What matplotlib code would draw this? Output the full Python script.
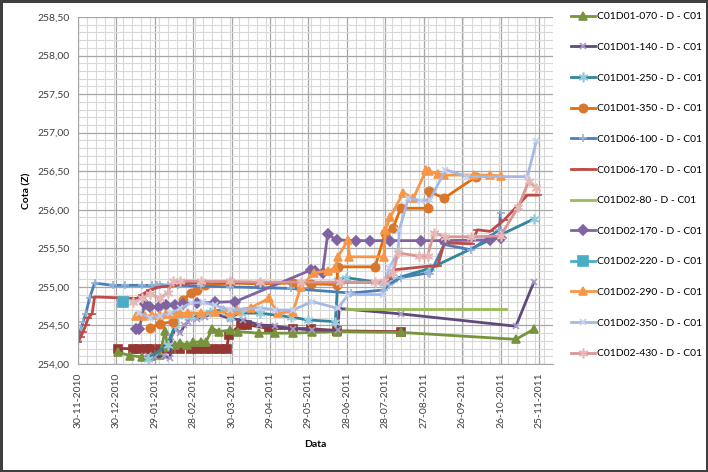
import matplotlib
matplotlib.use("Agg")
import matplotlib.pyplot as plt
import matplotlib.dates as mdates
import matplotlib.ticker as mticker
import pandas as pd

# ---- data (date, cota) ----
d070 = ["2010-12-31", "2011-01-10", "2011-01-19", "2011-01-26", "2011-02-02", "2011-02-06", "2011-02-08",
        "2011-02-14", "2011-02-18", "2011-02-23", "2011-02-28", "2011-03-06", "2011-03-10", "2011-03-15",
        "2011-03-20", "2011-03-29", "2011-04-04", "2011-04-20", "2011-05-03", "2011-05-17", "2011-06-01",
        "2011-06-20", "2011-08-09", "2011-11-07", "2011-11-21"]
z070 = [254.15, 254.11, 254.09, 254.10, 254.12, 254.43, 254.22, 254.24, 254.27, 254.25, 254.28, 254.29, 254.29,
        254.46, 254.42, 254.44, 254.42, 254.40, 254.40, 254.40, 254.41, 254.42, 254.41, 254.32, 254.45]

d140 = ["2011-01-24", "2011-01-29", "2011-02-05", "2011-02-10", "2011-02-11", "2011-02-14", "2011-02-18",
        "2011-02-21", "2011-02-24", "2011-02-26", "2011-03-03", "2011-03-09", "2011-03-15", "2011-03-29",
        "2011-04-08", "2011-04-20", "2011-05-03", "2011-05-17", "2011-06-01", "2011-06-21", "2011-06-22",
        "2011-08-09", "2011-11-07", "2011-11-21"]
z140 = [254.10, 254.09, 254.10, 254.08, 254.35, 254.46, 254.40, 254.50, 254.55, 254.61, 254.59, 254.61, 254.66,
        254.59, 254.57, 254.51, 254.49, 254.46, 254.44, 254.44, 254.72, 254.65, 254.49, 255.06]

d250 = ["2011-01-24", "2011-02-08", "2011-02-14", "2011-02-16", "2011-02-26", "2011-03-06", "2011-03-13",
        "2011-03-23", "2011-03-29", "2011-04-06", "2011-04-21", "2011-05-15", "2011-05-29", "2011-06-19",
        "2011-06-21", "2011-06-27", "2011-07-27", "2011-08-03", "2011-09-01", "2011-11-21"]
z250 = [254.07, 254.25, 254.51, 254.62, 254.62, 254.63, 254.68, 254.70, 254.61, 254.66, 254.66, 254.61, 254.57,
        254.55, 255.09, 255.12, 255.05, 255.10, 255.24, 255.88]

d350 = ["2011-01-25", "2011-02-02", "2011-02-12", "2011-02-20", "2011-02-26", "2011-03-03", "2011-03-09",
        "2011-03-29", "2011-04-20", "2011-05-17", "2011-05-31", "2011-06-20", "2011-06-21", "2011-07-20",
        "2011-07-28", "2011-08-03", "2011-08-09", "2011-08-30", "2011-08-31", "2011-09-12", "2011-10-07"]
z350 = [254.47, 254.52, 254.55, 254.83, 254.92, 254.96, 255.02, 255.05, 255.04, 255.05, 255.04, 255.03, 255.26,
        255.26, 255.70, 255.76, 256.02, 256.02, 256.24, 256.15, 256.43]

d6100 = ["2010-11-30", "2010-12-02", "2010-12-04", "2010-12-06", "2010-12-09", "2010-12-13", "2010-12-27",
         "2011-01-06", "2011-01-19", "2011-01-27", "2011-01-31", "2011-02-02", "2011-02-08", "2011-02-16",
         "2011-03-06", "2011-03-29", "2011-05-15", "2011-07-01", "2011-07-27", "2011-07-31", "2011-08-09",
         "2011-08-30", "2011-09-01", "2011-09-12", "2011-10-03", "2011-10-25", "2011-10-26"]
z6100 = [254.30, 254.45, 254.55, 254.65, 254.85, 255.05, 255.02, 255.02, 255.02, 255.02, 255.02, 255.03, 255.02,
         255.02, 255.01, 255.00, 254.98, 254.92, 254.96, 255.03, 255.12, 255.18, 255.17, 255.55, 255.48, 255.74,
         255.96]

d6170 = ["2010-11-30", "2010-12-02", "2010-12-04", "2010-12-06", "2010-12-08", "2010-12-11", "2010-12-13",
         "2011-01-15", "2011-01-19", "2011-01-25", "2011-02-02", "2011-02-10", "2011-02-26", "2011-03-09",
         "2011-07-27", "2011-07-31", "2011-08-03", "2011-09-01", "2011-09-07", "2011-09-12", "2011-10-03",
         "2011-10-08", "2011-10-18", "2011-10-29", "2011-11-16", "2011-11-24"]
z6170 = [254.28, 254.35, 254.42, 254.50, 254.60, 254.65, 254.87, 254.85, 254.90, 254.96, 255.00, 255.01, 255.05,
         255.06, 255.06, 255.10, 255.22, 255.27, 255.27, 255.57, 255.56, 255.74, 255.72, 255.87, 256.19, 256.19]

d280 = ["2011-06-27", "2011-10-30"]
z280 = [254.71, 254.71]

d2170 = ["2011-01-14", "2011-01-17", "2011-01-21", "2011-01-25", "2011-02-01", "2011-02-07", "2011-02-14",
         "2011-02-20", "2011-03-03", "2011-03-17", "2011-04-02", "2011-05-31", "2011-06-03", "2011-06-09",
         "2011-06-13", "2011-06-20", "2011-07-05", "2011-07-16", "2011-08-01", "2011-08-25", "2011-09-12",
         "2011-10-18", "2011-10-26"]
z2170 = [254.46, 254.46, 254.78, 254.74, 254.74, 254.77, 254.76, 254.78, 254.79, 254.80, 254.81, 255.22, 255.20,
         255.18, 255.68, 255.61, 255.60, 255.60, 255.60, 255.60, 255.60, 255.61, 255.64]

d2220 = ["2011-01-04"]
z2220 = [254.81]

d2290 = ["2011-01-14", "2011-01-21", "2011-01-27", "2011-02-02", "2011-02-07", "2011-02-12", "2011-02-18",
         "2011-02-24", "2011-03-06", "2011-03-17", "2011-03-29", "2011-04-03", "2011-04-14", "2011-04-28",
         "2011-05-05", "2011-05-17", "2011-05-23", "2011-06-02", "2011-06-13", "2011-06-19", "2011-06-21",
         "2011-06-29", "2011-06-30", "2011-07-27", "2011-07-28", "2011-08-01", "2011-08-11", "2011-08-19",
         "2011-08-29", "2011-08-31", "2011-09-07", "2011-09-12", "2011-10-05", "2011-10-18", "2011-10-26"]
z2290 = [254.62, 254.62, 254.63, 254.64, 254.65, 254.65, 254.66, 254.66, 254.66, 254.67, 254.68, 254.70, 254.73,
         254.85, 254.66, 254.68, 255.00, 255.18, 255.21, 255.24, 255.39, 255.61, 255.39, 255.39, 255.74, 255.91,
         256.22, 256.15, 256.52, 256.50, 256.47, 256.45, 256.45, 256.45, 256.44]

d2350 = ["2011-01-17", "2011-01-25", "2011-02-02", "2011-02-10", "2011-02-18", "2011-02-26", "2011-03-08",
         "2011-03-17", "2011-03-29", "2011-04-21", "2011-05-03", "2011-05-17", "2011-06-01", "2011-06-21",
         "2011-06-29", "2011-07-26", "2011-07-31", "2011-08-07", "2011-08-08", "2011-08-15", "2011-08-25",
         "2011-09-01", "2011-09-13", "2011-09-30", "2011-11-16", "2011-11-23"]
z2350 = [254.66, 254.60, 254.62, 254.66, 254.72, 254.79, 254.80, 254.76, 254.70, 254.73, 254.70, 254.70, 254.81,
         254.72, 254.90, 254.90, 255.24, 255.45, 255.74, 256.15, 256.12, 256.13, 256.52, 256.43, 256.43, 256.89]

d2430 = ["2011-01-12", "2011-01-19", "2011-01-25", "2011-02-02", "2011-02-08", "2011-02-12", "2011-02-18",
         "2011-03-06", "2011-03-29", "2011-04-21", "2011-05-23", "2011-06-23", "2011-07-20", "2011-07-27",
         "2011-08-03", "2011-08-07", "2011-08-23", "2011-08-30", "2011-09-04", "2011-09-13", "2011-10-03",
         "2011-10-26", "2011-11-09", "2011-11-17", "2011-11-23"]
z2430 = [254.80, 254.85, 254.91, 254.85, 254.92, 255.07, 255.08, 255.07, 255.07, 255.06, 255.06, 255.06, 255.06,
         255.07, 255.18, 255.44, 255.40, 255.40, 255.70, 255.65, 255.65, 255.66, 256.04, 256.37, 256.28]

# series whose legend entry is cut off in the original
dsq = ["2010-12-31", "2011-01-12", "2011-01-17", "2011-01-23", "2011-01-25", "2011-02-02", "2011-02-10",
       "2011-02-18", "2011-02-26", "2011-03-03", "2011-03-09", "2011-03-15", "2011-03-21", "2011-03-26",
       "2011-03-28", "2011-04-06", "2011-04-11", "2011-04-28", "2011-05-17", "2011-05-31", "2011-06-20",
       "2011-08-09"]
zsq = [254.20, 254.20, 254.20, 254.20, 254.20, 254.20, 254.20, 254.20, 254.20, 254.20, 254.20, 254.20, 254.20,
       254.20, 254.38, 254.51, 254.51, 254.46, 254.46, 254.46, 254.43, 254.42]

# (dates, values, label, line colour, marker, marker colour, marker size)
series = [
    (dsq, zsq, "_nolegend_", "#953735", "s", "#953735", 6),
    (d070, z070, "C01D01-070 - D - C01", "#77933C", "^", "#77933C", 6),
    (d140, z140, "C01D01-140 - D - C01", "#604A7B", "x", "#A99BC8", 5),
    (d250, z250, "C01D01-250 - D - C01", "#31859C", (6, 2, 0), "#93CDDD", 7),
    (d350, z350, "C01D01-350 - D - C01", "#E46C0A", "o", "#D9782D", 6),
    (d6100, z6100, "C01D06-100 - D - C01", "#4A7EBB", "+", "#95B3D7", 6),
    (d6170, z6170, "C01D06-170 - D - C01", "#BE4B48", "_", "#BE4B48", 6),
    (d280, z280, "C01D02-80 - D - C01", "#9BBB59", None, "#9BBB59", 0),
    (d2170, z2170, "C01D02-170 - D - C01", "#8064A2", "D", "#8064A2", 5),
    (d2220, z2220, "C01D02-220 - D - C01", "#4BACC6", "s", "#4BACC6", 7),
    (d2290, z2290, "C01D02-290 - D - C01", "#F79646", "^", "#F79646", 6),
    (d2350, z2350, "C01D02-350 - D - C01", "#A7B9E3", "x", "#C5D3EE", 5),
    (d2430, z2430, "C01D02-430 - D - C01", "#D99694", (6, 2, 0), "#E6B9B8", 7),
]

plt.rcParams["font.family"] = ["Lato", "DejaVu Sans"]

fig = plt.figure(figsize=(7.08, 4.72), dpi=100, edgecolor="#3F3F3F", linewidth=2.5)
ax = fig.add_axes([78 / 708, 1 - 364 / 472, (553 - 78) / 708, (364 - 17) / 472])

for dts, vals, lab, col, mk, mcol, ms in series:
    ax.plot(pd.to_datetime(dts), vals, color=col, linewidth=2, label=lab,
            marker=mk, markersize=ms, markerfacecolor=mcol, markeredgecolor=mcol, markeredgewidth=1.2)

start = pd.Timestamp("2010-11-30")
ax.set_xlim(start, pd.Timestamp("2011-12-06"))
ax.set_ylim(254.0, 258.5)

major = [start + pd.Timedelta(days=30 * i) for i in range(13)]
minor = [start + pd.Timedelta(days=7 * i) for i in range(54)]
ax.set_xticks(major)
ax.set_xticks(minor, minor=True)
ax.xaxis.set_major_formatter(mdates.DateFormatter("%d-%m-%Y"))
ax.yaxis.set_major_locator(mticker.MultipleLocator(0.5))
ax.yaxis.set_minor_locator(mticker.MultipleLocator(0.1))
ax.yaxis.set_major_formatter(mticker.FuncFormatter(lambda v, p: ("%.2f" % v).replace(".", ",")))

ax.grid(which="major", color="#A6A6A6", linewidth=0.9)
ax.grid(which="minor", color="#D9D9D9", linewidth=0.8)
ax.set_axisbelow(True)
for s in ["top", "right"]:
    ax.spines[s].set_visible(False)
ax.spines["left"].set_color("#A6A6A6")
ax.spines["bottom"].set_color("#A6A6A6")
ax.tick_params(which="both", length=0, labelsize=7.5, colors="#404040")
ax.tick_params(axis="x", rotation=90, pad=6)
ax.tick_params(axis="y", pad=6)
ax.set_xlabel("Data", fontweight="bold", fontsize=7.5, labelpad=9)
ax.set_ylabel("Cota (Z)", fontweight="bold", fontsize=7.5, labelpad=4)

fig.legend(loc="upper left", bbox_to_anchor=(571 / 708, 1 - 12 / 472), frameon=False, fontsize=7.5,
           labelspacing=2.05, handlelength=2.3, handletextpad=0.2, borderpad=0, borderaxespad=0)

fig.savefig("out.png", dpi=100)
